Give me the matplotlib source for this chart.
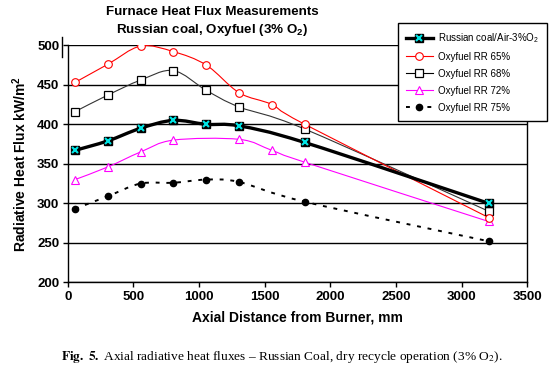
import matplotlib
matplotlib.use("Agg")
import matplotlib.pyplot as plt
from matplotlib.path import Path
from matplotlib.patches import PathPatch
from matplotlib.lines import Line2D
from matplotlib.legend_handler import HandlerTuple

plt.rcParams['font.family'] = ['Liberation Sans', 'DejaVu Sans']
plt.rcParams['mathtext.fontset'] = 'custom'
plt.rcParams['mathtext.rm'] = 'Liberation Sans'
plt.rcParams['mathtext.bf'] = 'Liberation Sans:bold'

# data (distance mm, heat flux kW/m2)
x_air = [55, 305, 555, 805, 1055, 1305, 1805, 3205]
y_air = [367, 379, 395, 405, 400, 398, 377, 300]

x_rr65 = [55, 305, 555, 805, 1055, 1305, 1555, 1805, 3205]
y_rr65 = [453, 476, 499, 492, 475, 440, 425, 400, 282]

x_rr68 = [55, 305, 555, 805, 1055, 1305, 1805, 3205]
y_rr68 = [416, 437, 456, 468, 443, 422, 394, 290]

x_rr72 = [55, 305, 555, 805, 1305, 1555, 1805, 3205]
y_rr72 = [330, 346, 365, 380, 381, 367, 352, 277]

x_rr75 = [55, 305, 555, 805, 1055, 1305, 1805, 3205]
y_rr75 = [293, 309, 325, 326, 330, 327, 302, 252]

xticks = [0, 500, 1000, 1500, 2000, 2500, 3000, 3500]
yticks = [200, 250, 300, 350, 400, 450, 500]


def smooth_path(xs, ys):
    # catmull-rom style bezier, like excel's smoothed lines
    pts = list(zip(xs, ys))
    verts = [pts[0]]
    codes = [Path.MOVETO]
    n = len(pts)
    for i in range(n - 1):
        p0 = pts[i - 1] if i > 0 else pts[i]
        p1 = pts[i]
        p2 = pts[i + 1]
        p3 = pts[i + 2] if i + 2 < n else pts[i + 1]
        c1 = (p1[0] + (p2[0] - p0[0]) / 6, p1[1] + (p2[1] - p0[1]) / 6)
        c2 = (p2[0] - (p3[0] - p1[0]) / 6, p2[1] - (p3[1] - p1[1]) / 6)
        verts += [c1, c2, p2]
        codes += [Path.CURVE4] * 3
    return Path(verts, codes)


fig = plt.figure(figsize=(5.52, 3.88), dpi=100)
ax = fig.add_axes([0.1227, 0.2724, 0.8326, 0.6108])

ax.set_xlim(0, 3500)
ax.set_ylim(200, 500)
ax.set_xticks(xticks)
ax.set_yticks(yticks)
ax.yaxis.grid(True, color='black', lw=1)
ax.set_axisbelow(True)
for s in ['left', 'bottom', 'right']:
    ax.spines[s].set_linewidth(1)
ax.spines['top'].set_visible(False)
ax.tick_params(direction='out', length=3.5, width=1, labelsize=9.5, pad=2.5)
for lab in ax.get_xticklabels() + ax.get_yticklabels():
    lab.set_fontweight('bold')

dash = (0, (2, 3.5))
series = [
    (x_rr75, y_rr75, dict(color='black', lw=1.4, ls=dash),
     dict(marker='o', ms=4.5, mfc='black', mec='black')),
    (x_rr72, y_rr72, dict(color='#ff00ff', lw=0.8, ls='-'),
     dict(marker='^', ms=5.5, mfc='white', mec='#ff00ff', mew=0.8)),
    (x_rr68, y_rr68, dict(color='#333333', lw=0.8, ls='-'),
     dict(marker='s', ms=5.5, mfc='white', mec='black', mew=0.9)),
    (x_rr65, y_rr65, dict(color='#ff0000', lw=0.8, ls='-'),
     dict(marker='o', ms=5.5, mfc='white', mec='#ff0000', mew=0.8)),
    (x_air, y_air, dict(color='black', lw=2.4, ls='-'), None),
]
for xs, ys, lstyle, mstyle in series:
    ax.add_patch(PathPatch(smooth_path(xs, ys), fill=False, edgecolor=lstyle['color'],
                           lw=lstyle['lw'], linestyle=lstyle['ls'], zorder=3))
    if mstyle:
        ax.plot(xs, ys, ls='none', zorder=4, **mstyle)

ax.plot(x_air, y_air, ls='none', marker='s', ms=6, mfc='black', mec='black', zorder=5)
ax.plot(x_air, y_air, ls='none', marker='x', ms=5, mec='#00e5e5', mew=1.5, zorder=6)

ax.set_xlabel('Axial Distance from Burner, mm', fontsize=10, fontweight='bold', labelpad=6)
ax.set_ylabel(r'Radiative Heat Flux kW/m$^\mathbf{2}$', fontsize=10, fontweight='bold', labelpad=6)

fig.text(212 / 552, 1 - 12 / 388, 'Furnace Heat Flux Measurements', ha='center', va='center',
         fontsize=9.6, fontweight='bold')
fig.text(212 / 552, 1 - 30 / 388, r'Russian coal, Oxyfuel (3% O$_\mathbf{2}$)', ha='center',
         va='center', fontsize=9.6, fontweight='bold')

# stray axis stub left of the 500 label
fig.add_artist(Line2D([61.7 / 552, 61.7 / 552], [1 - 37 / 388, 1 - 57 / 388], color='black', lw=1))

h_air = (Line2D([], [], color='black', lw=2.4, marker='s', ms=6, mfc='black', mec='black'),
         Line2D([], [], ls='none', marker='x', ms=5, mec='#00e5e5', mew=1.5))
h65 = Line2D([], [], color='#ff0000', lw=0.8, marker='o', ms=5.5, mfc='white', mec='#ff0000', mew=0.8)
h68 = Line2D([], [], color='black', lw=0.8, marker='s', ms=5.5, mfc='white', mec='black', mew=0.9)
h72 = Line2D([], [], color='#ff00ff', lw=0.8, marker='^', ms=5.5, mfc='white', mec='#ff00ff', mew=0.8)
h75 = Line2D([], [], color='black', lw=1.4, ls=dash, marker='o', ms=4.5, mfc='black', mec='black')
leg = fig.legend([h_air, h65, h68, h72, h75],
                 [r'Russian coal/Air-3%O$_2$', 'Oxyfuel RR 65%', 'Oxyfuel RR 68%',
                  'Oxyfuel RR 72%', 'Oxyfuel RR 75%'],
                 handler_map={tuple: HandlerTuple(ndivide=1, pad=0)},
                 loc='upper left', bbox_to_anchor=(398 / 552, 1 - 23.3 / 388),
                 borderaxespad=0, fontsize=7, handlelength=2.8, handletextpad=0.5,
                 labelspacing=0.72, borderpad=0.8, fancybox=False, framealpha=1,
                 edgecolor='black')
leg.get_frame().set_linewidth(1)

fig.text(282 / 552, 1 - 357 / 388, r'$\mathbf{Fig.\ 5.}$ Axial radiative heat fluxes – Russian Coal, dry recycle operation (3% O$_2$).',
         ha='center', va='center', fontsize=9.6, family=['Liberation Serif', 'DejaVu Serif'],
         math_fontfamily='stix')

fig.savefig('out.png', dpi=100)
